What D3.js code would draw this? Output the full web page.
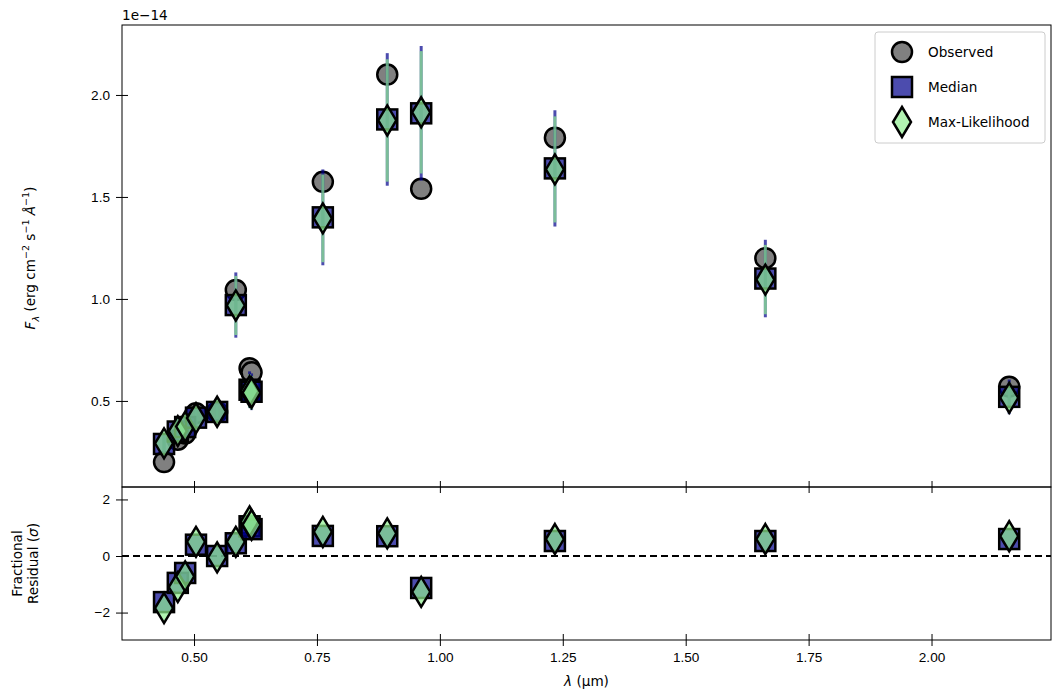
<!DOCTYPE html>
<html>
<head>
<meta charset="utf-8">
<script src="https://cdn.jsdelivr.net/npm/d3@7"></script>
<style>
  body { margin: 0; background: #fff; }
  svg { font-family: 'DejaVu Sans', sans-serif; }
  .tick text { font-size: 13.6px; fill: #000; }
</style>
</head>
<body>
<svg id="chart" width="1061" height="700"></svg>
<script>
// wavelengths (micron)
const wave = [0.439, 0.467, 0.482, 0.504, 0.547, 0.585, 0.613, 0.617, 0.762, 0.893, 0.962, 1.234, 1.662, 2.158];
// fluxes in units of 1e-14
const observed = [0.200, 0.310, 0.340, 0.440, 0.446, 1.044, 0.660, 0.640, 1.574, 2.100, 1.540, 1.790, 1.200, 0.570];
const median = [0.289, 0.350, 0.372, 0.418, 0.446, 0.970, 0.555, 0.545, 1.400, 1.880, 1.910, 1.640, 1.100, 0.520];
const medianErr = [0.055, 0.040, 0.050, 0.050, 0.040, 0.160, 0.090, 0.090, 0.235, 0.325, 0.330, 0.285, 0.190, 0.085];
const maxLike = [0.292, 0.352, 0.374, 0.416, 0.447, 0.968, 0.548, 0.540, 1.395, 1.875, 1.915, 1.635, 1.095, 0.515];
const maxLikeErr = [0.050, 0.036, 0.045, 0.045, 0.036, 0.145, 0.082, 0.082, 0.215, 0.300, 0.300, 0.260, 0.170, 0.075];
// fractional residuals (sigma)
const residMedian = [-1.63, -0.95, -0.60, 0.40, 0.00, 0.45, 1.05, 0.95, 0.71, 0.70, -1.13, 0.53, 0.53, 0.60];
const residMaxLike = [-1.84, -1.10, -0.72, 0.50, -0.05, 0.50, 1.22, 1.10, 0.85, 0.80, -1.27, 0.60, 0.60, 0.70];

const xTicks = [0.5, 0.75, 1.0, 1.25, 1.5, 1.75, 2.0];
const fluxTicks = [0.5, 1.0, 1.5, 2.0];
const residTicks = [-2, 0, 2];

const svg = d3.select('#chart');
const left = 122, right = 1051, topY = 25, midY = 487, bottomY = 640;

const x = d3.scaleLinear().domain([0.3535, 2.243]).range([left, right]);
const yFlux = d3.scaleLinear().domain([0.078, 2.343]).range([midY, topY]);
const yRes = d3.scaleLinear().domain([-2.97, 2.44]).range([bottomY, midY]);

const circleColor = '#808080';
const diamondColor = 'lightgreen';
const pts = wave.map((w, i) => ({ i: i, w: w }));

const diamond = 'M0,-15L9,0L0,15L-9,0Z';
const fs = '13.6px';

function styleAxis(g) {
  g.select('.domain').remove();
  g.selectAll('.tick line').attr('stroke', '#000').attr('stroke-width', 1);
}

// ---- top panel axes ----
svg.append('g')
  .attr('transform', `translate(${left},0)`)
  .call(d3.axisLeft(yFlux).tickValues(fluxTicks).tickFormat(d3.format('.1f')).tickSize(6).tickPadding(6))
  .call(styleAxis)
  .call(g => g.selectAll('.tick line').attr('x1', -6).attr('x2', 6));
svg.append('g')
  .attr('transform', `translate(0,${midY})`)
  .call(d3.axisBottom(x).tickValues(xTicks).tickFormat('').tickSize(6))
  .call(styleAxis)
  .call(g => g.selectAll('.tick line').attr('y1', -6).attr('y2', 6));

// ---- bottom panel axes ----
svg.append('g')
  .attr('transform', `translate(${left},0)`)
  .call(d3.axisLeft(yRes).tickValues(residTicks).tickFormat(d => d < 0 ? '\u2212' + Math.abs(d) : d).tickSize(6).tickPadding(6))
  .call(styleAxis)
  .call(g => g.selectAll('.tick line').attr('x1', -6).attr('x2', 6));
svg.append('g')
  .attr('transform', `translate(0,${bottomY})`)
  .call(d3.axisBottom(x).tickValues(xTicks).tickFormat(d3.format('.2f')).tickSize(6).tickPadding(6))
  .call(styleAxis)
  .call(g => g.selectAll('.tick line').attr('y1', -6).attr('y2', 6));

// zero line
svg.append('line')
  .attr('x1', left).attr('x2', right)
  .attr('y1', yRes(0)).attr('y2', yRes(0))
  .attr('stroke', '#000').attr('stroke-width', 1.8)
  .attr('stroke-dasharray', '7,4');

// ---- top panel marks ----
const fluxPanel = svg.append('g');
fluxPanel.selectAll('circle.obs').data(pts).enter().append('circle')
  .attr('class', 'obs')
  .attr('cx', d => x(d.w)).attr('cy', d => yFlux(observed[d.i]))
  .attr('r', 10)
  .style('fill', circleColor).style('stroke', '#000').style('stroke-width', 2.5);

fluxPanel.selectAll('line.errMed').data(pts).enter().append('line')
  .attr('class', 'errMed')
  .attr('x1', d => x(d.w)).attr('x2', d => x(d.w))
  .attr('y1', d => yFlux(median[d.i] - medianErr[d.i]))
  .attr('y2', d => yFlux(median[d.i] + medianErr[d.i]))
  .style('stroke', 'darkblue').style('stroke-opacity', 0.7).style('stroke-width', 3);

fluxPanel.selectAll('line.errMl').data(pts).enter().append('line')
  .attr('class', 'errMl')
  .attr('x1', d => x(d.w)).attr('x2', d => x(d.w))
  .attr('y1', d => yFlux(maxLike[d.i] - maxLikeErr[d.i]))
  .attr('y2', d => yFlux(maxLike[d.i] + maxLikeErr[d.i]))
  .style('stroke', diamondColor).style('stroke-opacity', 0.7).style('stroke-width', 3);

fluxPanel.selectAll('rect.med').data(pts).enter().append('rect')
  .attr('class', 'med')
  .attr('x', d => x(d.w) - 10).attr('y', d => yFlux(median[d.i]) - 10)
  .attr('width', 20).attr('height', 20)
  .style('fill', 'darkblue').style('fill-opacity', 0.7)
  .style('stroke', '#000').style('stroke-width', 2.5);

fluxPanel.selectAll('path.ml').data(pts).enter().append('path')
  .attr('class', 'ml')
  .attr('d', diamond)
  .attr('transform', d => `translate(${x(d.w)},${yFlux(maxLike[d.i])})`)
  .style('fill', diamondColor).style('fill-opacity', 0.7)
  .style('stroke', '#000').style('stroke-width', 2.5);

// ---- bottom panel marks ----
const residPanel = svg.append('g');
residPanel.selectAll('rect.med').data(pts).enter().append('rect')
  .attr('x', d => x(d.w) - 10).attr('y', d => yRes(residMedian[d.i]) - 10)
  .attr('width', 20).attr('height', 20)
  .style('fill', 'darkblue').style('fill-opacity', 0.7)
  .style('stroke', '#000').style('stroke-width', 2.5);
residPanel.selectAll('path.ml').data(pts).enter().append('path')
  .attr('d', diamond)
  .attr('transform', d => `translate(${x(d.w)},${yRes(residMaxLike[d.i])})`)
  .style('fill', diamondColor).style('fill-opacity', 0.7)
  .style('stroke', '#000').style('stroke-width', 2.5);

// frames
[[topY, midY], [midY, bottomY]].forEach(([a, b]) => {
  svg.append('rect')
    .attr('x', left).attr('y', a).attr('width', right - left).attr('height', b - a)
    .style('fill', 'none').style('stroke', '#000').style('stroke-width', 1);
});

// offset text
svg.append('text').attr('x', left).attr('y', 20).style('font-size', fs).text('1e\u221214');

// axis labels
svg.append('text')
  .attr('transform', `translate(35,${(topY + midY) / 2 + 2}) rotate(-90)`)
  .attr('text-anchor', 'middle').style('font-size', fs)
  .html('<tspan font-style="italic">F</tspan><tspan font-style="italic" font-size="9.5" dy="4">\u03bb</tspan>'
    + '<tspan dy="-4"> (erg cm</tspan><tspan font-size="9.5" dy="-6">\u22122</tspan>'
    + '<tspan dy="6"> s</tspan><tspan font-size="9.5" dy="-6">\u22121</tspan>'
    + '<tspan dy="6"> </tspan><tspan font-style="italic">\u00c5</tspan><tspan font-size="9.5" dy="-6">\u22121</tspan><tspan dy="6">)</tspan>');

const resLabel = svg.append('text')
  .attr('transform', `translate(22,${(midY + bottomY) / 2}) rotate(-90)`)
  .attr('text-anchor', 'middle').style('font-size', fs);
resLabel.append('tspan').attr('x', 0).attr('dy', 0).text('Fractional');
resLabel.append('tspan').attr('x', 0).attr('dy', 15.5).html('Residual (<tspan font-style="italic">\u03c3</tspan>)');

svg.append('text')
  .attr('x', (left + right) / 2).attr('y', 686)
  .attr('text-anchor', 'middle').style('font-size', fs)
  .html('<tspan font-style="italic">\u03bb</tspan> (\u03bcm)');

// ---- legend ----
const legend = svg.append('g');
legend.append('rect')
  .attr('x', 875).attr('y', 32).attr('width', 170).attr('height', 111).attr('rx', 3)
  .style('fill', '#fff').style('fill-opacity', 0.8).style('stroke', '#ccc');
const legendItems = ['Observed', 'Median', 'Max-Likelihood'];
legendItems.forEach((name, k) => {
  const cy = 52 + k * 35;
  if (k === 0) {
    legend.append('circle').attr('cx', 902).attr('cy', cy).attr('r', 10)
      .style('fill', circleColor).style('stroke', '#000').style('stroke-width', 2.5);
  } else if (k === 1) {
    legend.append('rect').attr('x', 892).attr('y', cy - 10).attr('width', 20).attr('height', 20)
      .style('fill', 'darkblue').style('fill-opacity', 0.7).style('stroke', '#000').style('stroke-width', 2.5);
  } else {
    legend.append('path').attr('d', diamond).attr('transform', `translate(902,${cy})`)
      .style('fill', diamondColor).style('fill-opacity', 0.7).style('stroke', '#000').style('stroke-width', 2.5);
  }
  legend.append('text').attr('x', 928).attr('y', cy + 5).style('font-size', fs).text(name);
});
</script>
</body>
</html>
